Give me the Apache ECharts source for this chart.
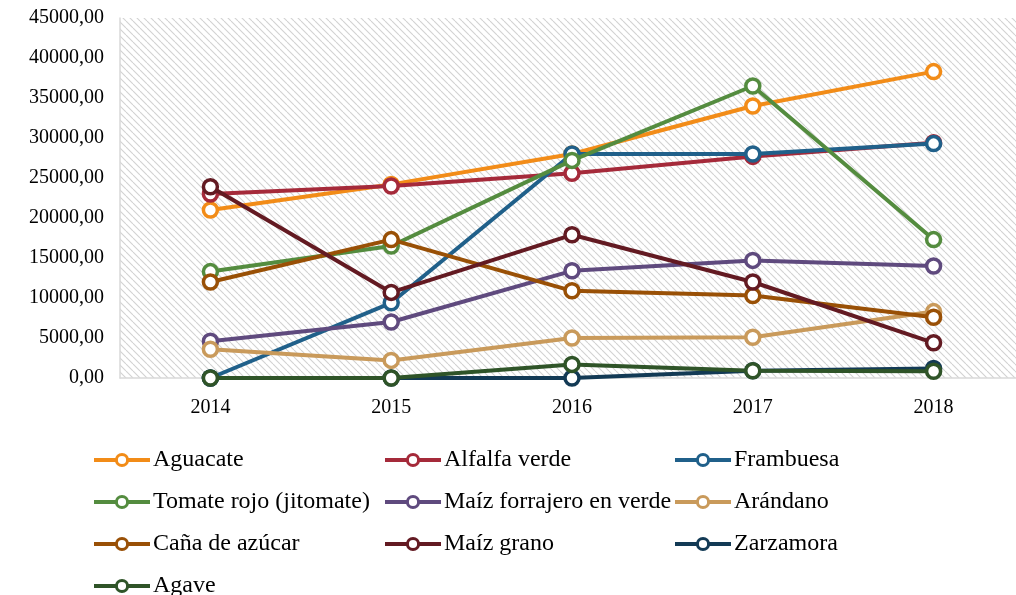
<!DOCTYPE html>
<html>
<head>
<meta charset="utf-8">
<script src="https://cdn.jsdelivr.net/npm/echarts@6/dist/echarts.min.js"></script>
<style>
  html, body { margin: 0; padding: 0; background: #fff; }
  #chart { width: 1016px; height: 595px; }
</style>
</head>
<body>
<div id="chart"></div>
<script>
// years on the x axis
var years = ['2014', '2015', '2016', '2017', '2018'];

// values per crop
var aguacate = [21000, 24200, 28000, 34000, 38300];
var alfalfaVerde = [23000, 24000, 25600, 27700, 29400];
var frambuesa = [0, 9400, 28000, 28000, 29300];
var tomateRojo = [13300, 16500, 27200, 36500, 17300];
var maizForrajero = [4600, 7000, 13400, 14700, 14000];
var arandano = [3600, 2200, 5000, 5100, 8300];
var canaAzucar = [12000, 17300, 10900, 10300, 7600];
var maizGrano = [23900, 10700, 17900, 12000, 4400];
var zarzamora = [0, 0, 0, 900, 1200];
var agave = [0, 0, 1700, 900, 850];

var names = ['Aguacate', 'Alfalfa verde', 'Frambuesa', 'Tomate rojo (jitomate)',
  'Maíz forrajero en verde', 'Arándano', 'Caña de azúcar', 'Maíz grano', 'Zarzamora', 'Agave'];
var values = [aguacate, alfalfaVerde, frambuesa, tomateRojo, maizForrajero,
  arandano, canaAzucar, maizGrano, zarzamora, agave];
var colors = ['#F28C18', '#A52A3A', '#20608A', '#548C3F', '#5F4A7E',
  '#C99A5B', '#995006', '#631A22', '#133A55', '#2F5428'];

// hatched plot background
var tile = document.createElement('canvas');
tile.width = 7;
tile.height = 7;
var tctx = tile.getContext('2d');
tctx.strokeStyle = '#d2d2d2';
tctx.lineWidth = 1.1;
[-7, 0, 7].forEach(function (o) {
  tctx.beginPath();
  tctx.moveTo(o, 0);
  tctx.lineTo(o + 7, 7);
  tctx.stroke();
});

var font = 'Liberation Serif';

var series = names.map(function (n, i) {
  return {
    name: n,
    type: 'line',
    data: values[i],
    symbol: 'circle',
    symbolSize: 14,
    color: colors[i],
    lineStyle: { width: 4, color: colors[i] },
    itemStyle: { color: '#fff', borderColor: colors[i], borderWidth: 3.5 },
    z: 2 + i
  };
});

function legendCol(left, items) {
  return {
    orient: 'vertical',
    left: left,
    top: 448,
    height: 170,
    data: items,
    itemWidth: 56,
    itemHeight: 14,
    itemGap: 18,
    lineStyle: { width: 4 },
    itemStyle: { borderWidth: 3 },
    textStyle: { fontFamily: font, fontSize: 24, color: '#000', lineHeight: 22, padding: [0, 0, 0, -2] },
    padding: 0
  };
}

var myChart = echarts.init(document.getElementById('chart'), null, { devicePixelRatio: 1 });
var option = {
  animation: false,
  grid: {
    left: 120,
    top: 18,
    width: 904,
    height: 360,
    outerBoundsMode: 'none',
    show: true,
    borderWidth: 0,
    backgroundColor: { image: tile, repeat: 'repeat' }
  },
  legend: [
    legendCol(92, [names[0], names[3], names[6], names[9]]),
    legendCol(383, [names[1], names[4], names[7]]),
    legendCol(673, [names[2], names[5], names[8]])
  ],
  xAxis: {
    type: 'category',
    data: years,
    boundaryGap: true,
    axisLine: { lineStyle: { color: '#d9d9d9', width: 1.5 } },
    axisTick: { show: false },
    axisLabel: { fontFamily: font, fontSize: 20, color: '#000', margin: 20 }
  },
  yAxis: {
    type: 'value',
    min: 0,
    max: 45000,
    interval: 5000,
    axisLine: { show: true, lineStyle: { color: '#d9d9d9', width: 1.5 } },
    axisTick: { show: false },
    splitLine: { show: false },
    axisLabel: {
      fontFamily: font, fontSize: 20, color: '#000', margin: 16,
      formatter: function (v) { return v.toFixed(2).replace('.', ','); }
    }
  },
  series: series
};
option && myChart.setOption(option);
</script>
</body>
</html>
